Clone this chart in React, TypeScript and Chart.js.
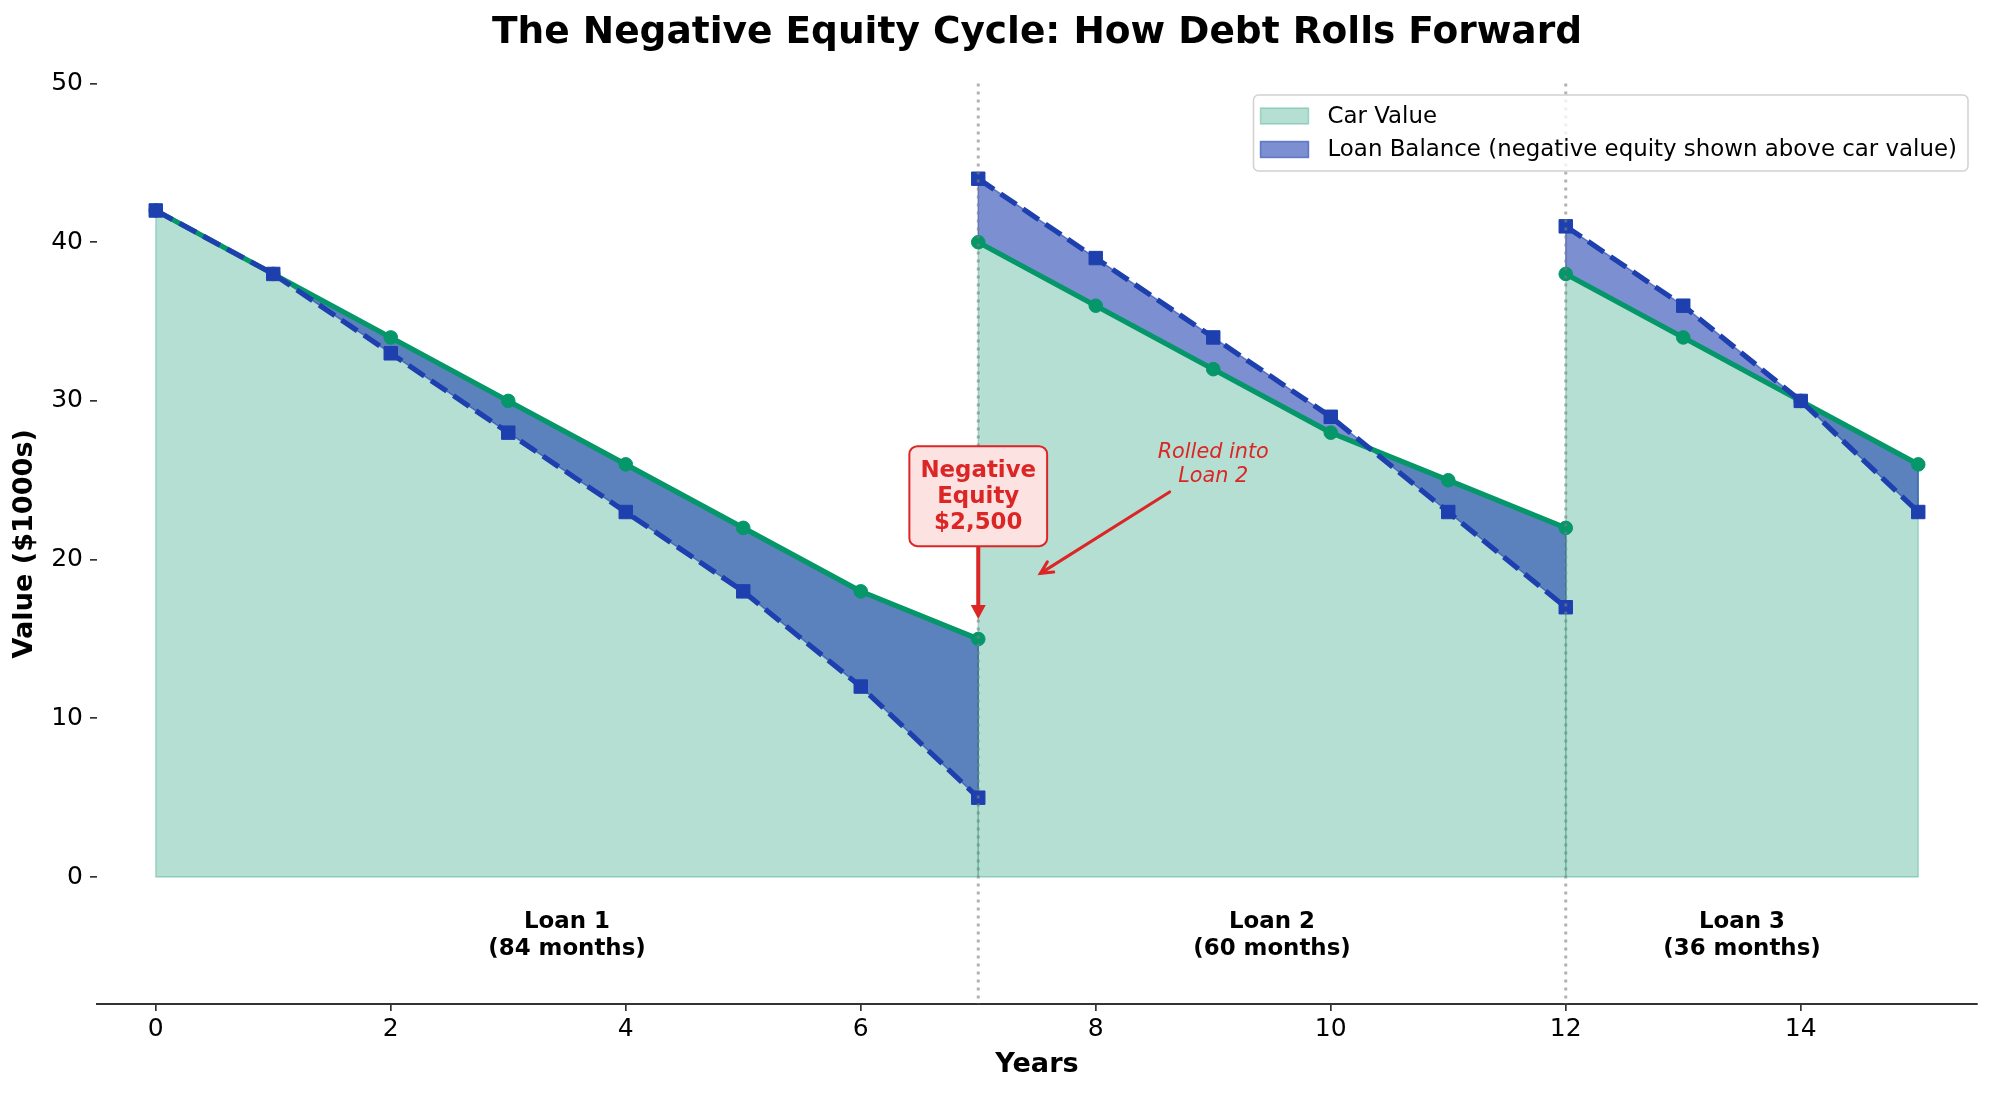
import React, { useEffect, useRef } from 'react';
import { Chart, registerables } from 'chart.js';

Chart.register(...registerables);

const FONT = "'DejaVu Sans', 'Liberation Sans', sans-serif";

// ---- data ----
const YEARS_LOAN1 = [0, 1, 2, 3, 4, 5, 6, 7];
const CAR_LOAN1 = [42, 38, 34, 30, 26, 22, 18, 15];
const BAL_LOAN1 = [42, 38, 33, 28, 23, 18, 12, 5];

const YEARS_LOAN2 = [7, 8, 9, 10, 11, 12];
const CAR_LOAN2 = [40, 36, 32, 28, 25, 22];
const BAL_LOAN2 = [44, 39, 34, 29, 23, 17];

const YEARS_LOAN3 = [12, 13, 14, 15];
const CAR_LOAN3 = [38, 34, 30, 26];
const BAL_LOAN3 = [41, 36, 30, 23];

const SEGMENT_NAMES = ['Loan 1', 'Loan 2', 'Loan 3'];
const SEGMENT_TERMS = ['(84 months)', '(60 months)', '(36 months)'];
const ROLLOVER_YEARS = [7, 12];

const X_TICKS = [0, 2, 4, 6, 8, 10, 12, 14];
const Y_TICKS = [0, 10, 20, 30, 40, 50];

const TITLE = 'The Negative Equity Cycle: How Debt Rolls Forward';
const X_TITLE = 'Years';
const Y_TITLE = 'Value ($1000s)';
const LEGEND_LABELS = ['Car Value', 'Loan Balance (negative equity shown above car value)'];

const NEG_EQUITY_TEXT = ['Negative', 'Equity', '$2,500'];
const NEG_EQUITY_AT = [7, 24];
const NEG_EQUITY_TARGET = [7, 16];
const ROLLED_TEXT = ['Rolled into', 'Loan 2'];
const ROLLED_AT = [9, 26];
const ROLLED_TARGET = [7.5, 19];
const SEGMENT_LABEL_Y = -3.7;

// ---- styles ----
const CAR_COLOR = '#059669';
const CAR_FILL = 'rgba(5,150,105,0.3)';
const LOAN_COLOR = '#1e40af';
const LOAN_FILL = 'rgba(30,64,175,0.58)';
const RED = '#dc2626';

const SEGMENTS = [
  { years: YEARS_LOAN1, car: CAR_LOAN1, bal: BAL_LOAN1 },
  { years: YEARS_LOAN2, car: CAR_LOAN2, bal: BAL_LOAN2 },
  { years: YEARS_LOAN3, car: CAR_LOAN3, bal: BAL_LOAN3 },
];

function drawArrowHead(ctx: CanvasRenderingContext2D, tx: number, ty: number, ang: number, len: number, halfW: number, filled: boolean) {
  const bx = tx - Math.cos(ang) * len;
  const by = ty - Math.sin(ang) * len;
  const px = -Math.sin(ang) * halfW;
  const py = Math.cos(ang) * halfW;
  ctx.beginPath();
  if (filled) {
    ctx.moveTo(tx, ty);
    ctx.lineTo(bx + px, by + py);
    ctx.lineTo(bx - px, by - py);
    ctx.closePath();
    ctx.fill();
  } else {
    ctx.moveTo(bx + px, by + py);
    ctx.lineTo(tx, ty);
    ctx.lineTo(bx - px, by - py);
    ctx.stroke();
  }
}

const overlayPlugin = {
  id: 'overlay',
  beforeDatasetsDraw(chart: any) {
    const { ctx, chartArea, scales } = chart;
    const x = scales.x;
    const y = scales.y;
    ctx.save();
    ctx.beginPath();
    ctx.rect(chartArea.left, chartArea.top, chartArea.right - chartArea.left, chartArea.bottom - chartArea.top);
    ctx.clip();
    ctx.lineWidth = 1.5;
    ctx.lineJoin = 'round';
    SEGMENTS.forEach((seg) => {
      const n = seg.years.length;
      ctx.beginPath();
      ctx.moveTo(x.getPixelForValue(seg.years[0]), y.getPixelForValue(0));
      seg.years.forEach((yr, i) => ctx.lineTo(x.getPixelForValue(yr), y.getPixelForValue(seg.car[i])));
      ctx.lineTo(x.getPixelForValue(seg.years[n - 1]), y.getPixelForValue(0));
      ctx.closePath();
      ctx.strokeStyle = CAR_FILL;
      ctx.stroke();

      ctx.beginPath();
      seg.years.forEach((yr, i) => {
        const px = x.getPixelForValue(yr);
        const py = y.getPixelForValue(seg.bal[i]);
        if (i === 0) ctx.moveTo(px, py);
        else ctx.lineTo(px, py);
      });
      for (let i = n - 1; i >= 0; i--) ctx.lineTo(x.getPixelForValue(seg.years[i]), y.getPixelForValue(seg.car[i]));
      ctx.closePath();
      ctx.strokeStyle = LOAN_FILL;
      ctx.stroke();
    });
    ctx.restore();
  },
  afterDatasetsDraw(chart: any) {
    const { ctx, chartArea, scales } = chart;
    const x = scales.x;
    const y = scales.y;
    ctx.save();

    // rollover dotted lines
    ctx.strokeStyle = 'rgba(128,128,128,0.6)';
    ctx.lineWidth = 3;
    ctx.setLineDash([3, 5]);
    ROLLOVER_YEARS.forEach((yr) => {
      const px = x.getPixelForValue(yr);
      ctx.beginPath();
      ctx.moveTo(px, chartArea.top);
      ctx.lineTo(px, chartArea.bottom);
      ctx.stroke();
    });
    ctx.setLineDash([]);

    // segment labels
    ctx.fillStyle = '#000';
    ctx.font = `bold 22.9px ${FONT}`;
    ctx.textAlign = 'center';
    ctx.textBaseline = 'middle';
    SEGMENTS.forEach((seg, i) => {
      const mid = (seg.years[0] + seg.years[seg.years.length - 1]) / 2;
      const px = x.getPixelForValue(mid);
      const py = y.getPixelForValue(SEGMENT_LABEL_Y);
      ctx.fillText(SEGMENT_NAMES[i], px, py - 13.5);
      ctx.fillText(SEGMENT_TERMS[i], px, py + 13.5);
    });

    // negative equity box + arrow
    {
      const cx = x.getPixelForValue(NEG_EQUITY_AT[0]);
      const cy = y.getPixelForValue(NEG_EQUITY_AT[1]);
      ctx.font = `bold 22.9px ${FONT}`;
      const lh = 26;
      const tw = Math.max(...NEG_EQUITY_TEXT.map((t) => ctx.measureText(t).width));
      const pad = 11;
      const bw = tw + 2 * pad;
      const bh = lh * NEG_EQUITY_TEXT.length + 2 * pad;
      const bx = cx - bw / 2;
      const by = cy - bh / 2;
      const tx = x.getPixelForValue(NEG_EQUITY_TARGET[0]);
      const ty = y.getPixelForValue(NEG_EQUITY_TARGET[1]) - 4;
      ctx.strokeStyle = RED;
      ctx.fillStyle = RED;
      ctx.lineWidth = 4;
      ctx.beginPath();
      ctx.moveTo(cx, by + bh);
      ctx.lineTo(tx, ty - 10);
      ctx.stroke();
      drawArrowHead(ctx, tx, ty, Math.atan2(ty - (by + bh), tx - cx), 14, 7.5, true);
      ctx.beginPath();
      (ctx as any).roundRect(bx, by, bw, bh, 8);
      ctx.fillStyle = '#fde2e2';
      ctx.fill();
      ctx.lineWidth = 2;
      ctx.strokeStyle = RED;
      ctx.stroke();
      ctx.fillStyle = RED;
      ctx.textAlign = 'center';
      ctx.textBaseline = 'middle';
      NEG_EQUITY_TEXT.forEach((t, i) => {
        ctx.fillText(t, cx, cy + (i - (NEG_EQUITY_TEXT.length - 1) / 2) * lh + 1);
      });
    }

    // rolled into text + arrow
    {
      const cx = x.getPixelForValue(ROLLED_AT[0]);
      const cy = y.getPixelForValue(ROLLED_AT[1]);
      ctx.font = `italic 20.8px ${FONT}`;
      const lh = 23.5;
      const tw = Math.max(...ROLLED_TEXT.map((t) => ctx.measureText(t).width));
      const halfW = tw / 2 + 4;
      const halfH = (lh * ROLLED_TEXT.length) / 2 + 4;
      ctx.fillStyle = RED;
      ctx.textAlign = 'center';
      ctx.textBaseline = 'middle';
      ROLLED_TEXT.forEach((t, i) => {
        ctx.fillText(t, cx, cy + (i - (ROLLED_TEXT.length - 1) / 2) * lh);
      });
      const tx = x.getPixelForValue(ROLLED_TARGET[0]);
      const ty = y.getPixelForValue(ROLLED_TARGET[1]);
      const dx = tx - cx;
      const dy = ty - cy;
      const t = Math.min(Math.abs(halfW / dx), Math.abs(halfH / dy));
      const sx = cx + dx * t;
      const sy = cy + dy * t;
      const ang = Math.atan2(dy, dx);
      const ex = tx - Math.cos(ang) * 4;
      const ey = ty - Math.sin(ang) * 4;
      ctx.strokeStyle = RED;
      ctx.lineWidth = 3;
      ctx.lineCap = 'round';
      ctx.beginPath();
      ctx.moveTo(sx, sy);
      ctx.lineTo(ex, ey);
      ctx.stroke();
      drawArrowHead(ctx, ex, ey, ang, 12, 6, false);
    }
    ctx.restore();
  },
  afterDraw(chart: any) {
    const { ctx, chartArea } = chart;
    ctx.save();
    // legend
    ctx.font = `22.9px ${FONT}`;
    const textW = Math.max(...LEGEND_LABELS.map((t) => ctx.measureText(t).width));
    const right = chartArea.right - 9;
    const top = chartArea.top + 11.5;
    const padL = 7;
    const patchW = 48;
    const gap = 19;
    const padR = 11;
    const left = right - (padL + patchW + gap + textW + padR);
    const height = 76;
    ctx.beginPath();
    (ctx as any).roundRect(left, top, right - left, height, 5);
    ctx.fillStyle = 'rgba(255,255,255,0.8)';
    ctx.fill();
    ctx.strokeStyle = 'rgba(204,204,204,0.9)';
    ctx.lineWidth = 1.5;
    ctx.stroke();
    const rows = [top + 21, top + 54.5];
    const fills = [CAR_FILL, LOAN_FILL];
    rows.forEach((ry, i) => {
      ctx.fillStyle = '#fff';
      ctx.fillRect(left + padL, ry - 8, patchW, 16);
      ctx.fillStyle = fills[i];
      ctx.fillRect(left + padL, ry - 8, patchW, 16);
      ctx.strokeStyle = fills[i];
      ctx.lineWidth = 1.5;
      ctx.strokeRect(left + padL, ry - 8, patchW, 16);
      ctx.fillStyle = '#000';
      ctx.textAlign = 'left';
      ctx.textBaseline = 'middle';
      ctx.fillText(LEGEND_LABELS[i], left + padL + patchW + gap, ry + 1);
    });

    // title
    const cx = (chartArea.left + chartArea.right) / 2;
    ctx.fillStyle = '#000';
    ctx.textAlign = 'center';
    ctx.textBaseline = 'middle';
    ctx.font = `bold 37.5px ${FONT}`;
    ctx.fillText(TITLE, cx, 33);
    // axis titles
    ctx.font = `bold 27.1px ${FONT}`;
    ctx.fillText(X_TITLE, cx, 1065);
    ctx.translate(25, (chartArea.top + chartArea.bottom) / 2);
    ctx.rotate(-Math.PI / 2);
    ctx.fillText(Y_TITLE, 0, 0);
    ctx.restore();
  },
};

export default function App() {
  const canvasRef = useRef<HTMLCanvasElement | null>(null);

  useEffect(() => {
    document.body.style.margin = '0';
    document.body.style.overflow = 'hidden';
    const canvas = canvasRef.current;
    if (!canvas) return;

    const loanDatasets = SEGMENTS.map((seg, i) => ({
      label: `Loan Balance ${i + 1}`,
      data: seg.years.map((yr, j) => ({ x: yr, y: seg.bal[j] })),
      borderColor: LOAN_COLOR,
      backgroundColor: LOAN_FILL,
      borderWidth: 5.2,
      borderDash: [19, 8],
      borderCapStyle: 'butt',
      pointStyle: 'rect',
      pointRadius: 9.5,
      pointBackgroundColor: LOAN_COLOR,
      pointBorderColor: LOAN_COLOR,
      pointBorderWidth: 1,
      tension: 0,
      fill: { target: SEGMENTS.length + i, above: LOAN_FILL, below: LOAN_FILL },
    }));
    const carDatasets = SEGMENTS.map((seg, i) => ({
      label: `Car Value ${i + 1}`,
      data: seg.years.map((yr, j) => ({ x: yr, y: seg.car[j] })),
      borderColor: CAR_COLOR,
      backgroundColor: CAR_FILL,
      borderWidth: 5.2,
      borderJoinStyle: 'round',
      pointStyle: 'circle',
      pointRadius: 6.8,
      pointBackgroundColor: CAR_COLOR,
      pointBorderColor: CAR_COLOR,
      pointBorderWidth: 1,
      tension: 0,
      fill: 'origin',
    }));

    const chart = new Chart(canvas, {
      type: 'line',
      data: { datasets: [...loanDatasets, ...carDatasets] as any },
      options: {
        animation: false,
        responsive: true,
        maintainAspectRatio: false,
        events: [],
        layout: { padding: { top: 83.5, right: 17, left: 0, bottom: 0 } },
        plugins: {
          legend: { display: false },
          title: { display: false },
          tooltip: { enabled: false },
          filler: { drawTime: 'beforeDatasetsDraw', propagate: false },
        } as any,
        scales: {
          x: {
            type: 'linear',
            min: -0.5,
            max: 15.5,
            afterBuildTicks: (s: any) => {
              s.ticks = X_TICKS.map((v) => ({ value: v }));
            },
            afterFit: (s: any) => {
              s.height = 90;
            },
            grid: { drawOnChartArea: false, drawTicks: true, tickLength: 7, color: '#333', lineWidth: 1.7 },
            border: { display: true, color: '#333', width: 2 },
            ticks: { font: { family: FONT, size: 25 }, color: '#000', padding: 3, maxRotation: 0, autoSkip: false },
          },
          y: {
            type: 'linear',
            min: -8,
            max: 50,
            afterBuildTicks: (s: any) => {
              s.ticks = Y_TICKS.map((v) => ({ value: v }));
            },
            afterFit: (s: any) => {
              s.width = 97;
            },
            grid: { drawOnChartArea: false, drawTicks: true, tickLength: 7, color: '#333', lineWidth: 1.7 },
            border: { display: false },
            ticks: { font: { family: FONT, size: 25 }, color: '#000', padding: 7, autoSkip: false },
          },
        } as any,
      },
      plugins: [overlayPlugin],
    });

    return () => {
      chart.destroy();
    };
  }, []);

  return (
    <div style={{ width: '1994px', height: '1094px', position: 'relative' }}>
      <canvas ref={canvasRef} />
    </div>
  );
}
